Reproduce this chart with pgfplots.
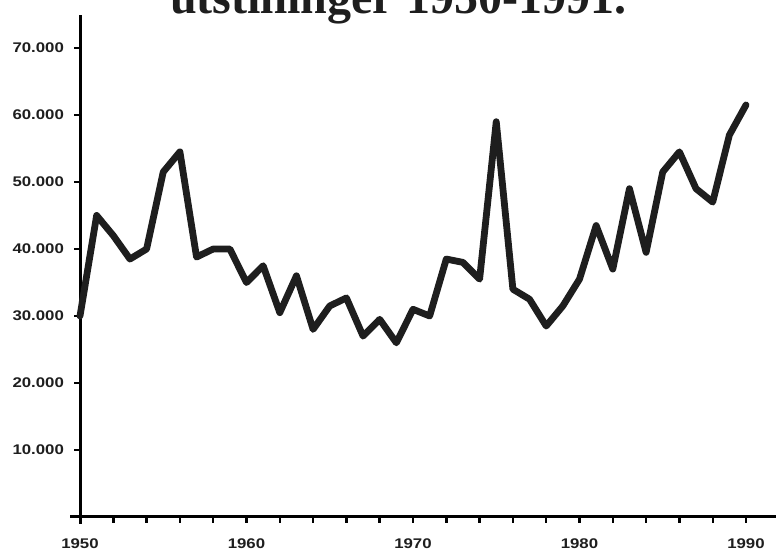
\documentclass[border=0pt]{standalone}
\usepackage{pgfplots}
\pgfplotsset{compat=1.18}
\usepackage{fontspec}
\setmainfont{Liberation Serif}
\newfontfamily\tickfont{Liberation Sans}[FakeStretch=1.2]
\definecolor{ink}{HTML}{1E1E1E}
\begin{document}
\begin{tikzpicture}
\begin{axis}[
  at={(40pt,17pt)}, anchor=south west,
  scale only axis,
  width=349.65pt, height=251.25pt,
  xmin=1950, xmax=1992, ymin=0, ymax=75000,
  axis x line=bottom, axis y line=left,
  axis line style={line width=1.5pt, -, black},
  x axis line style={shorten <=-5pt},
  y axis line style={shorten <=-3.5pt},
  xtick={1950,1960,1970,1980,1990},
  xticklabels={1950,1960,1970,1980,1990},
  minor xtick={1952,1954,...,1988},
  ytick={10000,20000,30000,40000,50000,60000,70000},
  yticklabels={10.000,20.000,30.000,40.000,50.000,60.000,70.000},
  tick align=outside,
  major tick length=3pt, minor tick length=3pt,
  every tick/.style={line width=1.2pt, black},
  ticklabel style={font=\tickfont\bfseries\fontsize{7}{8}\selectfont, text=ink},
  xticklabel style={yshift=-4.5pt},
  yticklabel style={xshift=-1.5pt},
  clip=false,
]
\addplot[ink, line width=3.4pt, line join=round, line cap=round] coordinates {
(1950,30000) (1951,45000) (1952,42000) (1953,38500) (1954,40000)
(1955,51500) (1956,54500) (1957,38800) (1958,40000) (1959,40000)
(1960,35000) (1961,37500) (1962,30500) (1963,36000) (1964,28000)
(1965,31500) (1966,32700) (1967,27000) (1968,29500) (1969,26000)
(1970,31000) (1971,30000) (1972,38500) (1973,38000) (1974,35500)
(1975,59000) (1976,34000) (1977,32500) (1978,28500) (1979,31500)
(1980,35500) (1981,43500) (1982,37000) (1983,49000) (1984,39500)
(1985,51500) (1986,54500) (1987,49000) (1988,47000) (1989,57000)
(1990,61500)
};
\end{axis}
\node[anchor=base, font=\bfseries\fontsize{24}{24}\selectfont, text=ink] at (199pt,268.5pt) {utstillinger 1950-1991.};
\pgfresetboundingbox
\path[use as bounding box] (0,0) rectangle (388pt,275.5pt);
\end{tikzpicture}
\end{document}
